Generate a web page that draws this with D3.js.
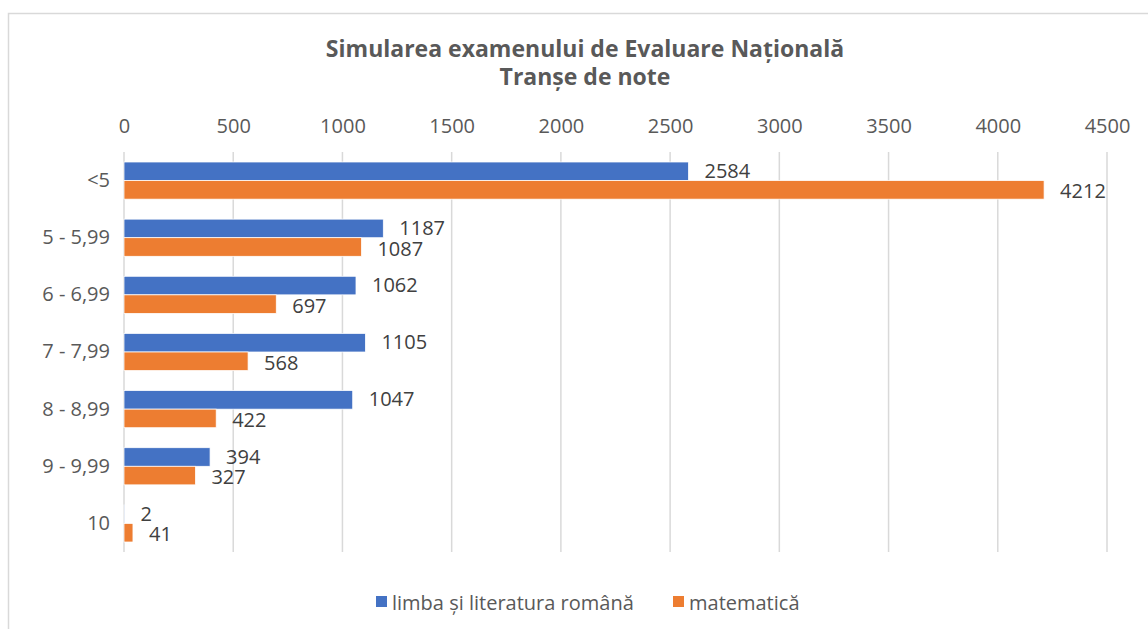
<!DOCTYPE html>
<html><head><meta charset="utf-8">
<script src="https://cdn.jsdelivr.net/npm/d3@7"></script>
<style>body{margin:0;background:#fff}svg{display:block}text{font-family:"Open Sans",Lato,sans-serif}</style>
</head><body>
<svg id="c" width="1148" height="629"></svg>
<script>
const categories = ["<5","5 - 5,99","6 - 6,99","7 - 7,99","8 - 8,99","9 - 9,99","10"];
const romana = [2584,1187,1062,1105,1047,394,2];
const matematica = [4212,1087,697,568,422,327,41];
const seriesNames = ["limba și literatura română","matematică"];
const colors = ["#4472C4","#ED7D31"];
const xTicks = [0,500,1000,1500,2000,2500,3000,3500,4000,4500];
const titleLines = ["Simularea examenului de Evaluare Națională","Tranșe de note"];
const FF = "'Open Sans',Lato,sans-serif";

const svg = d3.select("#c");
svg.append("rect").attr("x",8.5).attr("y",13.5).attr("width",1200).attr("height",700)
  .attr("fill","#fff").attr("stroke","#d9d9d9").attr("stroke-width",1.5);

const pL=124, pR=1107, pT=152, pB=552;
const x = d3.scaleLinear().domain([0,4500]).range([pL,pR]);
const y = d3.scaleBand().domain(categories).range([pT,pB]).paddingInner(0.35).paddingOuter(0.175);
const ys = d3.scaleBand().domain([0,1]).range([0,y.bandwidth()]);

// title
titleLines.forEach((t,i)=>{
  svg.append("text").attr("x",585).attr("y",48+i*28).attr("text-anchor","middle").attr("dominant-baseline","central")
    .attr("font-size",23).attr("font-weight",700).attr("fill","#595959").attr("font-family",FF).text(t);
});

// grid
svg.append("g").selectAll("line").data(xTicks).join("line")
  .attr("x1",d=>x(d)).attr("x2",d=>x(d)).attr("y1",pT).attr("y2",pB)
  .attr("stroke","#d9d9d9").attr("stroke-width",1.5);

// x axis top
const xa = svg.append("g").attr("transform",`translate(0,${pT})`)
  .call(d3.axisTop(x).tickValues(xTicks).tickSize(0).tickPadding(19).tickFormat(d3.format("d")));
xa.select(".domain").remove();
xa.selectAll("text").attr("font-size",20).attr("fill","#595959").attr("font-family",FF);

// y axis labels
const ya = svg.append("g").attr("transform",`translate(${pL},0)`)
  .call(d3.axisLeft(y).tickSize(0).tickPadding(14));
ya.select(".domain").remove();
ya.selectAll("text").attr("font-size",20).attr("fill","#595959").attr("font-family",FF);

const data = [romana, matematica];
data.forEach((vals,si)=>{
  const g = svg.append("g");
  g.selectAll("rect").data(vals).join("rect")
    .attr("x",x(0)).attr("y",(d,i)=>y(categories[i])+ys(si))
    .attr("width",d=>x(d)-x(0)).attr("height",ys.bandwidth())
    .attr("fill",colors[si]).attr("stroke","#fff").attr("stroke-width",0.75);
  g.selectAll("text").data(vals).join("text")
    .attr("x",d=>x(d)+16).attr("y",(d,i)=>y(categories[i])+ys(si)+ys.bandwidth()/2+(si?1:-1))
    .attr("dominant-baseline","central").attr("font-size",20).attr("fill","#404040").attr("font-family",FF).text(d=>d);
});

// legend
const lg = svg.append("g");
const legX = [376,673];
seriesNames.forEach((n,i)=>{
  lg.append("rect").attr("x",legX[i]).attr("y",596).attr("width",11).attr("height",11).attr("fill",colors[i]);
  lg.append("text").attr("x",legX[i]+16).attr("y",602).attr("dominant-baseline","central")
    .attr("font-size",20).attr("fill","#595959").attr("font-family",FF).text(n);
});
</script>
</body></html>
